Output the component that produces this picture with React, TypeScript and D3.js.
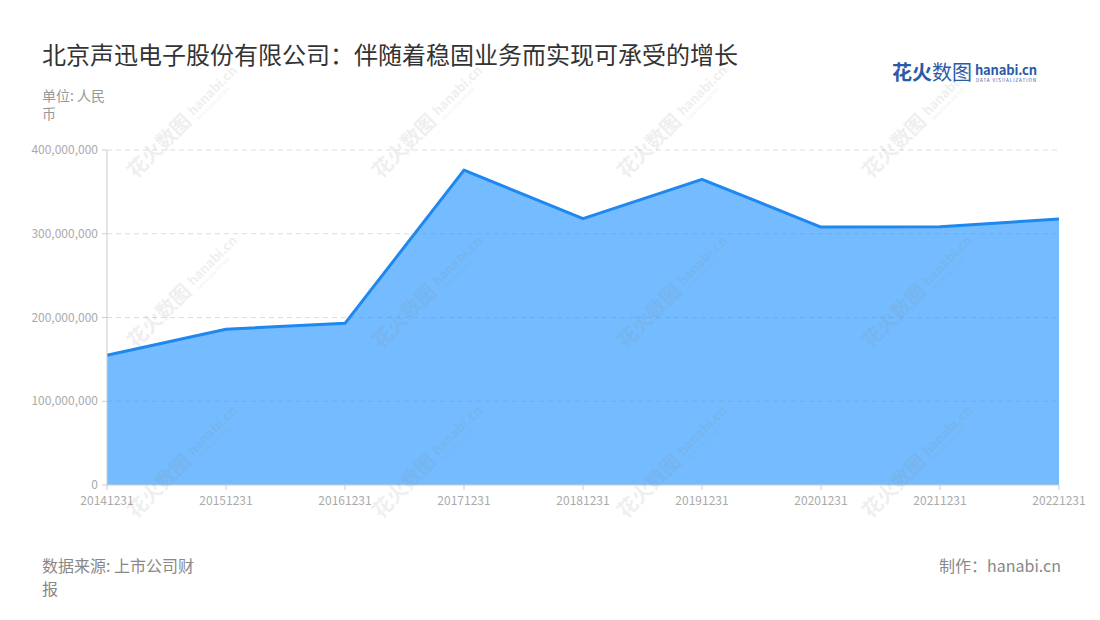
import React from "react";
import * as d3 from "d3";

const categories = ["20141231","20151231","20161231","20171231","20181231","20191231","20201231","20211231","20221231"];
const values = [155000000, 186000000, 193000000, 376000000, 318000000, 365000000, 308000000, 308500000, 317500000];
const yTicks = [0, 100000000, 200000000, 300000000, 400000000];

const W = 1100, H = 620;
const m = { left: 107, right: 1059, top: 150, bottom: 485 };
const FONT = "'Noto Sans CJK SC', 'Noto Sans', sans-serif";

export default function App() {
  const x = d3.scalePoint<string>().domain(categories).range([m.left, m.right]);
  const y = d3.scaleLinear().domain([0, 400000000]).range([m.bottom, m.top]);
  const fmt = d3.format(",");
  const area = d3.area<number>().x((_, i) => x(categories[i])!).y0(y(0)).y1(d => y(d));
  const line = d3.line<number>().x((_, i) => x(categories[i])!).y(d => y(d));

  const wmX = [150, 395, 640, 885];
  const wmY = [165, 335, 505];

  return (
    <svg width={W} height={H} style={{ display: "block", position: "absolute", left: 0, top: 0 }} fontFamily={FONT}>
      <rect width={W} height={H} fill="#fff" />
      <text x={42} y={64} fontSize={24} fill="#333">北京声迅电子股份有限公司：伴随着稳固业务而实现可承受的增长</text>
      <text x={42} y={101} fontSize={14} fill="#999">单位: 人民</text>
      <text x={42} y={119} fontSize={14} fill="#999">币</text>

      {/* logo */}
      <text x={892} y={80} fontSize={20} fontWeight="bold" fill="#2b5aa8">花火</text>
      <text x={932} y={80} fontSize={20} fill="#2b5aa8">数图</text>
      <text x={975} y={75} fontSize={13} fontWeight="bold" fill="#2b5aa8" textLength={62}>hanabi.cn</text>
      <text x={976} y={82} fontSize={4.5} fill="#2b5aa8" textLength={60}>DATA VISUALIZATION</text>

      {/* grid */}
      {yTicks.filter(t => t > 0).map(t => (
        <line key={t} x1={m.left} x2={m.right} y1={y(t)} y2={y(t)} stroke="#ddd" strokeDasharray="5,4" />
      ))}

      <path d={area(values)!} fill="#1890ff" fillOpacity={0.6} />
      <path d={line(values)!} fill="none" stroke="#1e88f0" strokeWidth={3} strokeLinejoin="round" />

      {/* y axis */}
      <line x1={m.left} x2={m.left} y1={m.top} y2={m.bottom} stroke="#ccc" />
      {yTicks.map(t => (
        <g key={t}>
          <line x1={m.left - 5} x2={m.left} y1={y(t)} y2={y(t)} stroke="#ccc" />
          <text x={m.left - 9} y={y(t) + 4} fontSize={12} fill="#aaa" textAnchor="end">{fmt(t)}</text>
        </g>
      ))}
      {/* x axis */}
      <line x1={m.left} x2={m.right} y1={m.bottom} y2={m.bottom} stroke="#ccc" />
      {categories.map(c => (
        <g key={c}>
          <line x1={x(c)} x2={x(c)} y1={m.bottom} y2={m.bottom + 5} stroke="#ccc" />
          <text x={x(c)} y={m.bottom + 20} fontSize={12} fill="#aaa" textAnchor="middle">{c}</text>
        </g>
      ))}

      {/* watermarks */}
      {wmX.map(wx => wmY.map(wy => (
        <g key={wx + "-" + wy} transform={`translate(${wx},${wy}) rotate(-45)`} opacity={0.13}>
          <text x={-20} y={0} fontSize={20} fontWeight="bold" fill="#888">花火数图</text>
          <text x={65} y={-4} fontSize={13} fontWeight="bold" fill="#888">hanabi.cn</text>
          <text x={66} y={3} fontSize={4.5} fill="#888">DATA VISUALIZATION</text>
        </g>
      )))}

      <text x={42} y={572} fontSize={16} fill="#888">数据来源: 上市公司财</text>
      <text x={42} y={595} fontSize={16} fill="#888">报</text>
      <text x={1061} y={572} fontSize={16} fill="#888" textAnchor="end">制作：hanabi.cn</text>
    </svg>
  );
}
